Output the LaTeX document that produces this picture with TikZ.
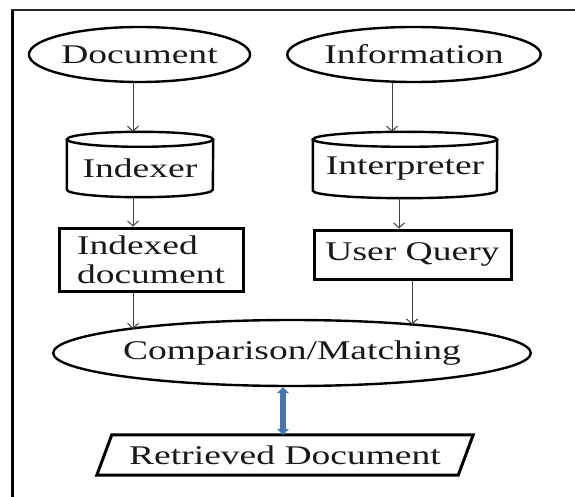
\documentclass[tikz,border=0pt]{standalone}
\usepackage{fontspec}
\setmainfont{Liberation Serif}[FakeStretch=1.39]
\usetikzlibrary{shapes.geometric,arrows.meta,calc}
\definecolor{linkblue}{HTML}{4A74AC}
\begin{document}
\begin{tikzpicture}[x=1pt,y=1pt,
  label/.style={font=\fontsize{27}{29}\selectfont, text=black!90, inner sep=0pt},
  oval/.style={label, ellipse, draw=black, line width=2.4pt},
  body/.style={label, rectangle, draw=none},
  boxed/.style={label, rectangle, draw=black, line width=3pt},
  outline/.style={draw=black, line width=2.4pt},
  flow/.style={draw=black!75, line width=1pt, -{Straight Barb[length=5pt,width=11pt]}},
  twoway/.style={draw=linkblue, line width=6.5pt,
    {Triangle[width=12pt,length=6pt]}-{Triangle[width=12pt,length=6pt]}}]
\useasboundingbox (0,0) rectangle (575,496);
\fill[white] (0,0) rectangle (575,496);

% outer frame (left and top edges)
\draw[black, line width=3pt] (12,-5) -- (12,486);
\draw[black!85, line width=2.5pt] (11,486) -- (580,486);

% source nodes
\node[oval, minimum width=185, minimum height=55] (doc) at (139.5,441.5) {Document};
\node[oval, minimum width=218, minimum height=55] (info) at (414,441.5) {Information};

% cylinders: node is the body, cap drawn on its top edge
\node[body, minimum width=146, minimum height=57.5] (idx) at (140,327.75) {Indexer};
\draw[outline] (idx.north) ellipse[x radius=73, y radius=7.5];
\draw[outline] (idx.north west) -- ([yshift=7.5pt]idx.south west)
  arc[start angle=180, end angle=360, x radius=73, y radius=7.5] -- (idx.north east);

\node[body, minimum width=184, minimum height=58.5] (interp) at (405,327.25) {Interpreter};
\draw[outline] (interp.north) ellipse[x radius=92, y radius=7.5];
\draw[outline] (interp.north west) -- ([yshift=7.5pt]interp.south west)
  arc[start angle=180, end angle=360, x radius=92, y radius=7.5] -- (interp.north east);

% boxes
\node[boxed, minimum width=184, minimum height=63, align=left] (idxd) at (151,236.5)
  {Indexed\\document};
\node[boxed, minimum width=197, minimum height=49] (uq) at (412.5,241.5) {User Query};

% matching stage
\node[oval, minimum width=390, minimum height=66] (cmp) at (292,143) {Comparison/Matching};

% output (parallelogram)
\node[body, minimum width=361, minimum height=40] (retr) at (285,41) {Retrieved Document};
\draw[black, line width=3pt, line join=miter]
  ([xshift=7.5pt]retr.north west) -- ([xshift=7.5pt]retr.north east) --
  ([xshift=-7.5pt]retr.south east) -- ([xshift=-7.5pt]retr.south west) -- cycle;

% connectors
\draw[flow] ([xshift=-6.5pt]doc.south) -- ([xshift=-7pt, yshift=7.5pt]idx.north);
\draw[flow] ([xshift=-7pt]idx.south) -- ([xshift=-18pt]idxd.north);
\draw[flow] ([xshift=-18pt]idxd.south) -- ([xshift=-18pt]idxd.south |- cmp.172);
\draw[flow] ([xshift=-22pt]info.south) -- ([xshift=-13pt, yshift=7.5pt]interp.north);
\draw[flow] ([xshift=-6pt]interp.south) -- ([xshift=-13.5pt]uq.north);
\draw[flow] ([xshift=-0.5pt]uq.south) -- ([xshift=-0.5pt]uq.south |- cmp.12);

\draw[twoway] ([xshift=-9pt]cmp.south) -- ([xshift=-9pt]cmp.south |- retr.north);
\end{tikzpicture}
\end{document}
